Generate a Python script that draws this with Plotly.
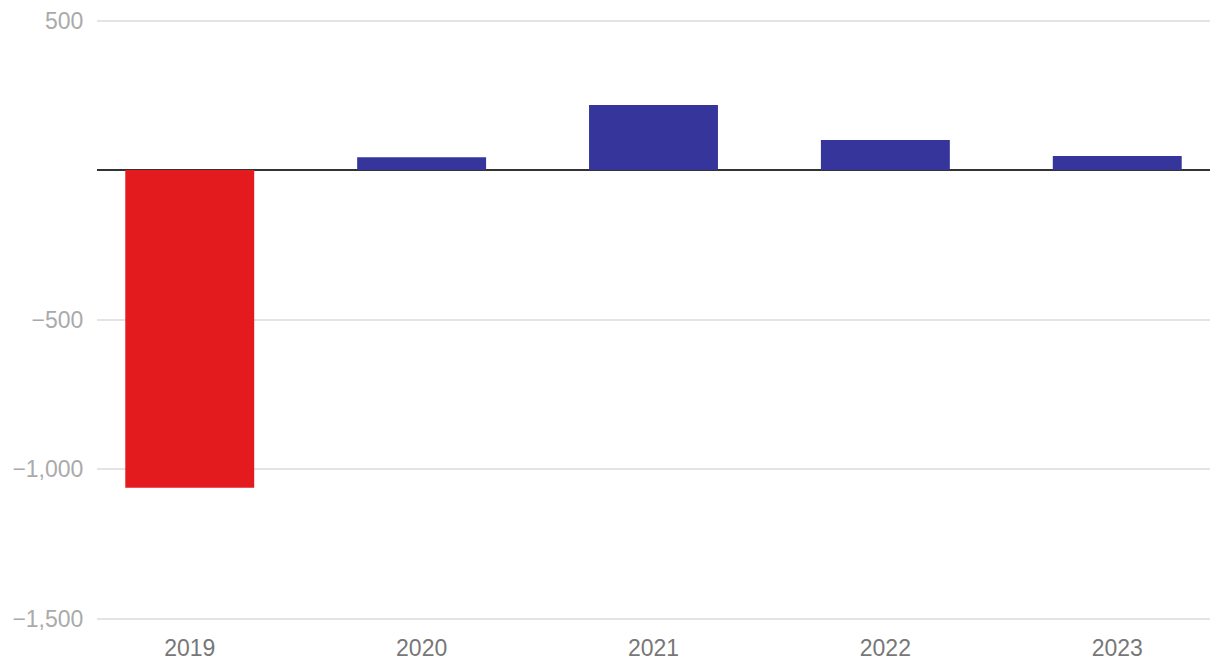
import plotly.graph_objects as go

years = ["2019", "2020", "2021", "2022", "2023"]
values = [-1063, 43, 217, 100, 47]
y_ticks = [500, -500, -1000, -1500]

colors = ["#e31b1e" if v < 0 else "#35359b" for v in values]

fig = go.Figure(go.Bar(x=years, y=values, marker=dict(color=colors, line=dict(width=0)),
                       width=0.556))

fig.update_layout(
    width=1220, height=672,
    margin=dict(l=97, r=10, t=19, b=52),
    plot_bgcolor="white", paper_bgcolor="white",
    font=dict(family="Liberation Sans, Arial, sans-serif", size=23),
    separators=".,",
    showlegend=False,
)
fig.update_xaxes(type="category", range=[-0.4, 4.4], showgrid=False, showline=False,
                 automargin=False,
                 ticks="outside", ticklen=7, tickcolor="rgba(0,0,0,0)",
                 tickfont=dict(color="#777777", size=23))
fig.update_yaxes(range=[-1505, 505], tickvals=y_ticks, tickformat=",d",
                 automargin=False,
                 showgrid=True, gridcolor="#e4e4e4", gridwidth=1.5,
                 zeroline=True, zerolinecolor="#333333", zerolinewidth=2,
                 ticks="outside", ticklen=8, tickcolor="rgba(0,0,0,0)",
                 tickfont=dict(color="#aaaaaa", size=23))

fig.write_html("out.html")
